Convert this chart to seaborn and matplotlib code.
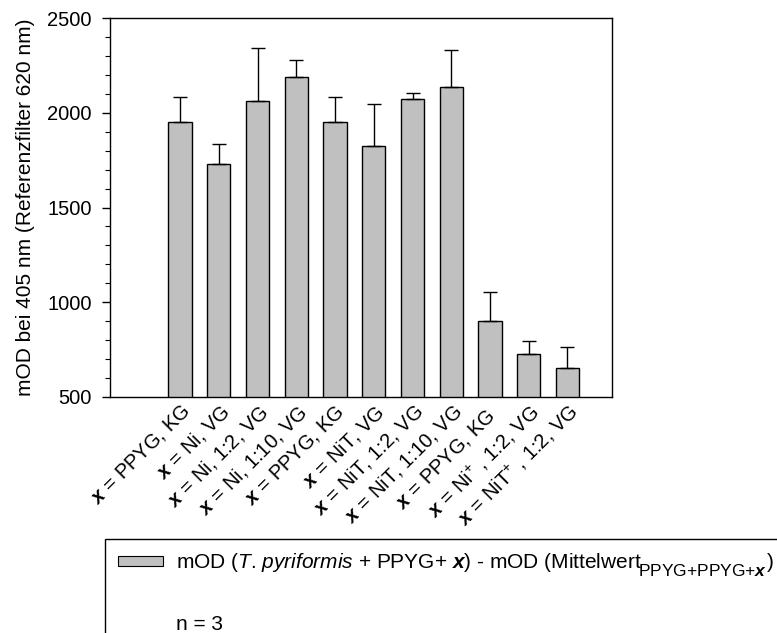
import matplotlib
matplotlib.use("Agg")
import matplotlib.pyplot as plt
import seaborn as sns
import pandas as pd
from matplotlib.patches import Patch, Rectangle
from matplotlib.ticker import MultipleLocator
from matplotlib.font_manager import FontProperties

categories = [
    r"$\mathbfit{x}$ = PPYG, KG",
    r"$\mathbfit{x}$ = Ni, VG",
    r"$\mathbfit{x}$ = Ni, 1:2, VG",
    r"$\mathbfit{x}$ = Ni, 1:10, VG",
    r"$\mathbfit{x}$ = PPYG, KG ",
    r"$\mathbfit{x}$ = NiT, VG",
    r"$\mathbfit{x}$ = NiT, 1:2, VG",
    r"$\mathbfit{x}$ = NiT, 1:10, VG",
    r"$\mathbfit{x}$ = PPYG, KG  ",
    r"$\mathbfit{x}$ = Ni$^{+}$ , 1:2, VG",
    r"$\mathbfit{x}$ = NiT$^{+}$ , 1:2, VG",
]
values = [1950, 1730, 2063, 2187, 1950, 1824, 2071, 2134, 901, 725, 653]
errors = [135, 105, 277, 91, 133, 224, 31, 199, 151, 72, 109]

legend_main = r"mOD ($\mathit{T}$. $\mathit{pyriformis}$ + PPYG+ $\mathbfit{x}$) - mOD (Mittelwert"
legend_sub = r"PPYG+PPYG+$\mathbfit{x}$"
legend_close = ")"
legend_n = "n = 3"

FS = 15
TFS = 14.5

sns.set_theme(style="white")
plt.rcParams["font.family"] = ["Liberation Sans", "DejaVu Sans"]
plt.rcParams["mathtext.fontset"] = "custom"
plt.rcParams["mathtext.rm"] = "Liberation Sans"
plt.rcParams["mathtext.it"] = "Liberation Sans:italic"
plt.rcParams["mathtext.bf"] = "Liberation Sans:bold"
plt.rcParams["mathtext.bfit"] = "Liberation Sans:bold:italic"
plt.rcParams["font.size"] = FS
for k in ["text.color", "axes.labelcolor", "xtick.color", "ytick.color", "axes.edgecolor"]:
    plt.rcParams[k] = "black"

df = pd.DataFrame({"cat": categories, "val": values})

fig = plt.figure(figsize=(7.77, 6.33), dpi=100)
ax = fig.add_axes([110/777, 1-397/633, (612-110)/777, (397-18)/633])

sns.barplot(data=df, x="cat", y="val", color="#c0c0c0", edgecolor="black",
            linewidth=1.0, width=0.6, saturation=1, ax=ax, errorbar=None)
xs = list(range(len(values)))
ax.errorbar(xs, values, yerr=[[0]*len(errors), errors], fmt="none",
            ecolor="black", elinewidth=1.0, capsize=5, capthick=1.0)

ax.set_ylim(500, 2500)
ax.set_xlim(-1.81, 11.15)
ax.yaxis.set_major_locator(MultipleLocator(500))
ax.yaxis.set_minor_locator(MultipleLocator(100))
ax.tick_params(axis="y", which="major", direction="out", length=6, width=1, left=True, labelsize=TFS, pad=7)
ax.tick_params(axis="y", which="minor", direction="out", length=3.5, width=0.8, left=True)
ax.tick_params(axis="x", length=0, pad=3, labelsize=TFS)
ax.set_xlabel("")
ax.set_ylabel("mOD bei 405 nm (Referenzfilter 620 nm)", fontsize=FS, labelpad=9)
for lab in ax.get_xticklabels():
    lab.set_rotation(45)
    lab.set_ha("right")
    lab.set_va("top")
    lab.set_rotation_mode("anchor")
for s in ax.spines.values():
    s.set_color("black")
    s.set_linewidth(1.0)

handles = [Patch(facecolor="#c0c0c0", edgecolor="black", linewidth=0.8),
           Patch(facecolor="none", edgecolor="none")]
leg = fig.legend(handles, [legend_main, legend_n], loc="upper left",
                 bbox_to_anchor=(105/777, 1-539/633), borderaxespad=0,
                 frameon=False, fontsize=FS, handlelength=2.2, handleheight=0.3,
                 labelspacing=1.95, borderpad=0.6, handletextpad=0.6)

fig.canvas.draw()
r = fig.canvas.get_renderer()
W, H = fig.bbox.width, fig.bbox.height
lb = leg.get_window_extent(r)
# frame: open to the right and bottom like the reference (extends past the figure)
fig.patches.append(Rectangle((lb.x0, -20), W + 40 - lb.x0, lb.y1 + 20,
                             transform=None, fill=False, edgecolor="black",
                             linewidth=1.0, figure=fig))
t0 = leg.get_texts()[0]
fp = t0.get_fontproperties()
bb = t0.get_window_extent(r)
w_main, h_main, d_main = r.get_text_width_height_descent(legend_main, fp, ismath=True)
baseline = bb.y0 + d_main
fp_sub = FontProperties(family=["Liberation Sans", "DejaVu Sans"], size=12.5)
w_sub, _, _ = r.get_text_width_height_descent(legend_sub, fp_sub, ismath=True)
x_sub = bb.x0 + w_main - 4
y_sub = baseline - 7
fig.text(x_sub / W, y_sub / H, legend_sub, fontproperties=fp_sub, va="baseline", ha="left")
fig.text((x_sub + w_sub) / W, baseline / H, legend_close, fontsize=FS, va="baseline", ha="left")

fig.savefig("out.png", dpi=100)
